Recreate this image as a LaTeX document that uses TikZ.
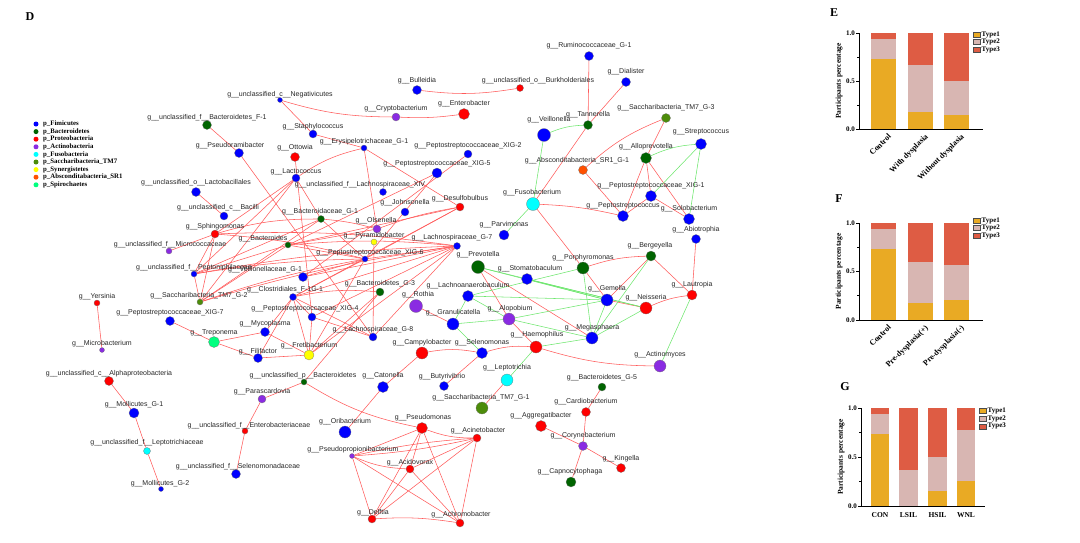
\documentclass[tikz,border=0pt]{standalone}
\usepackage{fontspec}
\setmainfont{Liberation Serif}
\newfontfamily\arialf{Liberation Sans}
\pgfdeclarelayer{bg}
\pgfsetlayers{bg,main}
\definecolor{pfir}{RGB}{0,0,255}
\definecolor{pbac}{RGB}{0,100,0}
\definecolor{ppro}{RGB}{255,0,0}
\definecolor{pact}{RGB}{138,43,226}
\definecolor{pfus}{RGB}{0,255,255}
\definecolor{ptm}{RGB}{77,140,10}
\definecolor{psyn}{RGB}{255,255,0}
\definecolor{pabs}{RGB}{255,80,0}
\definecolor{pspi}{RGB}{0,255,127}
\definecolor{ered}{RGB}{255,90,90}
\definecolor{egreen}{RGB}{110,230,110}
\definecolor{tone}{RGB}{233,170,36}
\definecolor{ttwo}{RGB}{216,182,178}
\definecolor{tthree}{RGB}{222,92,68}
\newcommand\sbar[6]{%
  \fill[tone] (#1,#3) rectangle (#2,{#3-#5*#4});
  \fill[ttwo] (#1,{#3-#5*#4}) rectangle (#2,{#3-#6*#4});
  \fill[tthree] (#1,{#3-#6*#4}) rectangle (#2,{#3-#4});
}
\newcommand\chartaxes[4]{% x, ytop, ybottom, xright
  \draw[line width=1pt] (#1,#2) -- (#1,#3) -- (#4,#3);
  \foreach \v in {0,0.5,1} \draw[line width=0.8pt] (#1,{#3-\v*(#3-#2)}) -- ++(-3,0);
  \foreach \v in {0.25,0.75} \draw[line width=0.6pt] (#1,{#3-\v*(#3-#2)}) -- ++(-2,0);
  \node[tick,anchor=east] at ({#1-4},#3) {0.0};
  \node[tick,anchor=east] at ({#1-4},{(#3+#2)/2}) {0.5};
  \node[tick,anchor=east] at ({#1-4},#2) {1.0};
  \node[ylab] at ({#1-20},{(#3+#2)/2}) {Participants percentage};
}
\newcommand\chartlegend[3]{% xbox, ytop, spacing
  \node[lbox,fill=tone] at (#1,#2) {};
  \node[lbox,fill=ttwo] at (#1,{#2+#3}) {};
  \node[lbox,fill=tthree] at (#1,{#2+2*#3}) {};
  \node[legt] at ({#1+5},#2) {Type1};
  \node[legt] at ({#1+5},{#2+#3}) {Type2};
  \node[legt] at ({#1+5},{#2+2*#3}) {Type3};
}
\tikzset{
  nd/.style={circle,draw=black!55,line width=0.25pt,inner sep=0pt,minimum size=#1pt},
  fir/.style={nd=#1,fill=pfir},
  bct/.style={nd=#1,fill=pbac},
  pro/.style={nd=#1,fill=ppro},
  act/.style={nd=#1,fill=pact},
  fus/.style={nd=#1,fill=pfus},
  tms/.style={nd=#1,fill=ptm},
  syn/.style={nd=#1,fill=psyn},
  abs/.style={nd=#1,fill=pabs},
  spi/.style={nd=#1,fill=pspi},
  lab/.style={font=\arialf\fontsize{7}{8}\selectfont,text=black!85,inner sep=0pt},
  re/.style={draw=ered,line width=0.55pt},
  ge/.style={draw=egreen,line width=0.55pt},
  ldot/.style={circle,inner sep=0pt,minimum size=5pt},
  legn/.style={font=\bfseries\fontsize{6.8}{7}\selectfont,anchor=west,inner sep=0pt},
  tick/.style={font=\bfseries\fontsize{7}{8}\selectfont,inner sep=0pt},
  ylab/.style={font=\bfseries\fontsize{7.5}{8}\selectfont,rotate=90,inner sep=0pt},
  xlab/.style={font=\bfseries\fontsize{8}{8}\selectfont,inner sep=0pt,rotate=45,anchor=north east},
  xlabh/.style={font=\bfseries\fontsize{7.5}{8}\selectfont,inner sep=0pt},
  lbox/.style={draw=black!70,line width=0.4pt,minimum width=7pt,minimum height=5pt,inner sep=0pt},
  legt/.style={font=\bfseries\fontsize{7}{8}\selectfont,anchor=west,inner sep=0pt},
  panel/.style={font=\bfseries\fontsize{12}{12}\selectfont,inner sep=0pt},
}
\begin{document}
\begin{tikzpicture}[x=1pt,y=-1pt]
\useasboundingbox (0,0) rectangle (1080,542);
\node[panel] (pD) at (30,17) {D};
% legend
\node[ldot,fill=pfir] (l1) at (36,124) {}; \node[legn] (l1t) at (43,124) {p\_Fimicutes};
\node[ldot,fill=pbac] (l2) at (36,131.6) {}; \node[legn] (l2t) at (43,131.6) {p\_Bacteroidetes};
\node[ldot,fill=ppro] (l3) at (36,139.2) {}; \node[legn] (l3t) at (43,139.2) {p\_Proteobacteria};
\node[ldot,fill=pact] (l4) at (36,146.8) {}; \node[legn] (l4t) at (43,146.8) {p\_Actinobacteria};
\node[ldot,fill=pfus] (l5) at (36,154.4) {}; \node[legn] (l5t) at (43,154.4) {p\_Fusobacteria};
\node[ldot,fill=ptm] (l6) at (36,162) {}; \node[legn] (l6t) at (43,162) {p\_Saccharibacteria\_TM7};
\node[ldot,fill=psyn] (l7) at (36,169.6) {}; \node[legn] (l7t) at (43,169.6) {p\_Synergistetes};
\node[ldot,fill=pabs] (l8) at (36,177.2) {}; \node[legn] (l8t) at (43,177.2) {p\_Absconditabacteria\_SR1};
\node[ldot,fill=pspi] (l9) at (36,184.8) {}; \node[legn] (l9t) at (43,184.8) {p\_Spirochaetes};

% nodes
\node[bct=9] (bf1) at (207,125) {}; \node[lab] (bf1t) at (207,118) {g\_\_unclassified\_f\_\_Bacteroidetes\_F-1};
\node[fir=9] (pseu) at (239,153) {}; \node[lab] (pseut) at (230,146) {g\_\_Pseudoramibacter};
\node[fir=5] (neg) at (280,100) {}; \node[lab] (negt) at (280,95) {g\_\_unclassified\_c\_\_Negativicutes};
\node[fir=8] (sta) at (313,134) {}; \node[lab] (stat) at (313,127) {g\_\_Staphylococcus};
\node[fir=6] (ery) at (364,148) {}; \node[lab] (eryt) at (364,142) {g\_\_Erysipelotrichaceae\_G-1};
\node[pro=9] (ott) at (295,157) {}; \node[lab] (ottt) at (295,148) {g\_\_Ottowia};
\node[act=8] (cry) at (396,117) {}; \node[lab] (cryt) at (396,109) {g\_\_Cryptobacterium};
\node[pro=11] (ent) at (464,114) {}; \node[lab] (entt) at (464,104) {g\_\_Enterobacter};
\node[fir=9] (bul) at (417,90) {}; \node[lab] (bult) at (417,81) {g\_\_Bulleidia};
\node[pro=7] (bur) at (520,88) {}; \node[lab] (burt) at (538,81) {g\_\_unclassified\_o\_\_Burkholderiales};
\node[fir=8] (x2) at (468,154) {}; \node[lab] (x2t) at (468,146) {g\_\_Peptostreptococcaceae\_XIG-2};
\node[fir=10] (x5) at (437,173) {}; \node[lab] (x5t) at (437,164) {g\_\_Peptostreptococcaceae\_XIG-5};
\node[fir=8] (lac) at (296,178) {}; \node[lab] (lact) at (296,172) {g\_\_Lactococcus};
\node[fir=9] (lbl) at (196,192) {}; \node[lab] (lblt) at (196,183) {g\_\_unclassified\_o\_\_Lactobacillales};
\node[fir=8] (bac) at (224,216) {}; \node[lab] (bact) at (218,208) {g\_\_unclassified\_c\_\_Bacilli};
\node[pro=8] (sph) at (215,234) {}; \node[lab] (spht) at (215,227) {g\_\_Sphingomonas};
\node[act=6] (mic) at (169,251) {}; \node[lab] (mict) at (170,245) {g\_\_unclassified\_f\_\_Micrococcaceae};
\node[fir=6] (pep) at (194,274) {}; \node[lab] (pept) at (194,268) {g\_\_unclassified\_f\_\_Peptoniphilaceae};
\node[tms=6] (tm2) at (200,302) {}; \node[lab] (tm2t) at (199,296) {g\_\_Saccharibacteria\_TM7\_G-2};
\node[pro=6] (yer) at (97,303) {}; \node[lab] (yert) at (97,297) {g\_\_Yersinia};
\node[act=5] (mib) at (102,350) {}; \node[lab] (mibt) at (102,344) {g\_\_Microbacterium};
\node[fir=9] (x7) at (170,321) {}; \node[lab] (x7t) at (170,313) {g\_\_Peptostreptococcaceae\_XIG-7};
\node[spi=11] (tre) at (214,342) {}; \node[lab] (tret) at (214,333) {g\_\_Treponema};
\node[fir=9] (myc) at (265,332) {}; \node[lab] (myct) at (265,324) {g\_\_Mycoplasma};
\node[fir=9] (fil) at (258,358) {}; \node[lab] (filt) at (258,352) {g\_\_Filifactor};
\node[fir=8] (joh) at (405,212) {}; \node[lab] (joht) at (405,203) {g\_\_Johnsonella};
\node[pro=8] (des) at (460,207) {}; \node[lab] (dest) at (460,199) {g\_\_Desulfobulbus};
\node[fir=7] (lxiv) at (383,192) {}; \node[lab] (lxivt) at (360,185) {g\_\_unclassified\_f\_\_Lachnospiraceae\_XIV};
\node[fus=13] (fsb) at (533,204) {}; \node[lab] (fsbt) at (532,193) {g\_\_Fusobacterium};
\node[bct=7] (bg1) at (321,219) {}; \node[lab] (bg1t) at (320,212) {g\_\_Bacteroidaceae\_G-1};
\node[act=8] (ols) at (377,229) {}; \node[lab] (olst) at (376,221) {g\_\_Olsenella};
\node[syn=6] (pyr) at (374,242) {}; \node[lab] (pyrt) at (374,236) {g\_\_Pyramidobacter};
\node[bct=6] (bds) at (288,245) {}; \node[lab] (bdst) at (263,239) {g\_\_Bacteroides};
\node[fir=10] (par) at (504,235) {}; \node[lab] (part) at (504,225) {g\_\_Parvimonas};
\node[fir=7] (lg7) at (457,246) {}; \node[lab] (lg7t) at (452,238) {g\_\_Lachnospiraceae\_G-7};
\node[bct=13] (pre) at (478,267) {}; \node[lab] (pret) at (478,255) {g\_\_Prevotella};
\node[fir=6] (x6) at (365,259) {}; \node[lab] (x6t) at (370,253) {g\_\_Peptostreptococcaceae\_XIG-6};
\node[fir=9] (vg1) at (303,277) {}; \node[lab] (vg1t) at (265,270) {g\_\_Veillonellaceae\_G-1};
\node[fir=7] (clo) at (293,297) {}; \node[lab] (clot) at (285,290) {g\_\_Clostridiales\_F-1G-1};
\node[bct=8] (bg3) at (380,292) {}; \node[lab] (bg3t) at (380,284) {g\_\_Bacteroidetes\_G-3};
\node[fir=11] (lan) at (468,296) {}; \node[lab] (lant) at (468,286) {g\_\_Lachnoanaerobaculum};
\node[act=13] (rot) at (416,306) {}; \node[lab] (rott) at (418,295) {g\_\_Rothia};
\node[fir=8] (x4) at (312,317) {}; \node[lab] (x4t) at (305,309) {g\_\_Peptostreptococcaceae\_XIG-4};
\node[fir=12] (gra) at (453,324) {}; \node[lab] (grat) at (453,313) {g\_\_Granulicatella};
\node[act=12] (alo) at (509,319) {}; \node[lab] (alot) at (510,309) {g\_\_Alopobium};
\node[fir=8] (lg8) at (373,337) {}; \node[lab] (lg8t) at (373,330) {g\_\_Lachnospiraceae\_G-8};
\node[syn=10] (fre) at (309,355) {}; \node[lab] (fret) at (309,346) {g\_\_Fretibacterium};
\node[pro=12] (cam) at (422,353) {}; \node[lab] (camt) at (422,343) {g\_\_Campylobacter};
\node[fir=11] (sel) at (482,353) {}; \node[lab] (selt) at (482,343) {g\_\_Selenomonas};
\node[pro=12] (hae) at (536,347) {}; \node[lab] (haet) at (537,335) {g\_\_Haemophilus};
\node[fir=11] (sto) at (527,279) {}; \node[lab] (stot) at (530,269) {g\_\_Stomatobaculum};
\node[fir=11] (x1) at (651,196) {}; \node[lab] (x1t) at (651,186) {g\_\_Peptostreptococcaceae\_XIG-1};
\node[fir=11] (pst) at (623,216) {}; \node[lab] (pstt) at (623,206) {g\_\_Peptostreptococcus};
\node[fir=11] (sol) at (689,219) {}; \node[lab] (solt) at (689,209) {g\_\_Solobacterium};
\node[fir=9] (abi) at (696,239) {}; \node[lab] (abit) at (696,230) {g\_\_Abiotrophia};
\node[bct=10] (ber) at (651,256) {}; \node[lab] (bert) at (650,246) {g\_\_Bergeyella};
\node[bct=12] (por) at (583,268) {}; \node[lab] (port) at (583,258) {g\_\_Porphyromonas};
\node[pro=10] (lau) at (692,295) {}; \node[lab] (laut) at (692,285) {g\_\_Lautropia};
\node[fir=12] (gem) at (607,300) {}; \node[lab] (gemt) at (607,289) {g\_\_Gemella};
\node[pro=12] (nei) at (646,308) {}; \node[lab] (neit) at (646,298) {g\_\_Neisseria};
\node[fir=12] (meg) at (592,338) {}; \node[lab] (megt) at (592,328) {g\_\_Megasphaera};
\node[act=12] (acm) at (660,366) {}; \node[lab] (acmt) at (660,355) {g\_\_Actinomyces};
\node[pro=9] (alp) at (109,381) {}; \node[lab] (alpt) at (109,374) {g\_\_unclassified\_c\_\_Alphaproteobacteria};
\node[fir=10] (mo1) at (134,413) {}; \node[lab] (mo1t) at (134,405) {g\_\_Mollicutes\_G-1};
\node[fus=7] (ltc) at (147,451) {}; \node[lab] (ltct) at (147,443) {g\_\_unclassified\_f\_\_Leptotrichiaceae};
\node[fir=5] (mo2) at (161,489) {}; \node[lab] (mo2t) at (160,484) {g\_\_Mollicutes\_G-2};
\node[act=8] (pas) at (262,399) {}; \node[lab] (past) at (262,392) {g\_\_Parascardovia};
\node[pro=6] (enb) at (245,431) {}; \node[lab] (enbt) at (249,426) {g\_\_unclassified\_f\_\_Enterobacteriaceae};
\node[fir=9] (sld) at (236,474) {}; \node[lab] (sldt) at (238,467) {g\_\_unclassified\_f\_\_Selenomonadaceae};
\node[bct=6] (ubd) at (304,382) {}; \node[lab] (ubdt) at (303,376) {g\_\_unclassified\_p\_\_Bacteroidetes};
\node[fir=11] (cat) at (383,387) {}; \node[lab] (catt) at (383,376) {g\_\_Catonella};
\node[fir=9] (but) at (444,386) {}; \node[lab] (butt) at (442,377) {g\_\_Butyrivibrio};
\node[fus=12] (lep) at (507,380) {}; \node[lab] (lept) at (507,368) {g\_\_Leptotrichia};
\node[tms=12] (tm1) at (482,408) {}; \node[lab] (tm1t) at (481,398) {g\_\_Saccharibacteria\_TM7\_G-1};
\node[fir=12] (ori) at (345,432) {}; \node[lab] (orit) at (345,422) {g\_\_Oribacterium};
\node[pro=11] (psm) at (422,428) {}; \node[lab] (psmt) at (423,418) {g\_\_Pseudomonas};
\node[pro=8] (aci) at (477,438) {}; \node[lab] (acit) at (478,431) {g\_\_Acinetobacter};
\node[act=5] (ppb) at (352,456) {}; \node[lab] (ppbt) at (353,450) {g\_\_Pseudopropionibacterium};
\node[pro=8] (acv) at (410,469) {}; \node[lab] (acvt) at (410,463) {g\_\_Acidovorax};
\node[pro=8] (del) at (372,519) {}; \node[lab] (delt) at (373,513) {g\_\_Delftia};
\node[pro=8] (ach) at (460,523) {}; \node[lab] (acht) at (461,515) {g\_\_Achromobacter};
\node[pro=11] (agg) at (541,426) {}; \node[lab] (aggt) at (541,416) {g\_\_Aggregatibacter};
\node[bct=8] (bg5) at (602,387) {}; \node[lab] (bg5t) at (602,378) {g\_\_Bacteroidetes\_G-5};
\node[pro=9] (car) at (586,412) {}; \node[lab] (cart) at (586,402) {g\_\_Cardiobacterium};
\node[act=9] (cor) at (583,446) {}; \node[lab] (cort) at (583,436) {g\_\_Corynebacterium};
\node[pro=9] (kin) at (621,468) {}; \node[lab] (kint) at (621,459) {g\_\_Kingella};
\node[bct=10] (cap) at (571,482) {}; \node[lab] (capt) at (570,472) {g\_\_Capnocytophaga};
\node[bct=9] (tan) at (588,125) {}; \node[lab] (tant) at (588,115) {g\_\_Tannerella};
\node[fir=9] (dia) at (626,82) {}; \node[lab] (diat) at (626,72) {g\_\_Dialister};
\node[fir=9] (rum) at (589,56) {}; \node[lab] (rumt) at (589,46) {g\_\_Ruminococcaceae\_G-1};
\node[fir=13] (vei) at (544,135) {}; \node[lab] (veit) at (549,120) {g\_\_Veillonella};
\node[tms=9] (tm3) at (666,118) {}; \node[lab] (tm3t) at (666,108) {g\_\_Saccharibacteria\_TM7\_G-3};
\node[fir=11] (str) at (701,144) {}; \node[lab] (strt) at (701,132) {g\_\_Streptococcus};
\node[bct=11] (alv) at (646,158) {}; \node[lab] (alvt) at (646,147) {g\_\_Alloprevotella};
\node[abs=9] (asr) at (583,170) {}; \node[lab] (asrt) at (577,161) {g\_\_Absconditabacteria\_SR1\_G-1};

\begin{pgfonlayer}{bg}
% red edges
\draw[re] (neg) to[bend right=8] (cry);
\draw[re] (cry) to[bend right=5] (ent);
\draw[re] (bul) to[bend right=8] (bur);
\draw[re] (neg) -- (sta);
\draw[re] (sta) -- (ery);
\draw[re] (ery) to[bend right=10] (lac);
\draw[re] (ery) -- (des);
\draw[re] (ery) -- (ols);
\draw[re] (x2) -- (vg1);
\draw[re] (x5) -- (bds);
\draw[re] (x5) -- (x6);
\draw[re] (bf1) -- (pseu);
\draw[re] (pseu) -- (lg8);
\draw[re] (ott) -- (x4);
\draw[re] (lac) -- (bg1);
\draw[re] (lac) -- (sph);
\draw[re] (lac) -- (pep);
\draw[re] (lac) -- (tm2);
\draw[re] (lbl) -- (bac);
\draw[re] (sph) -- (mic);
\draw[re] (sph) -- (pep);
\draw[re] (sph) -- (tm2);
\draw[re] (sph) to[bend left=5] (x6);
\draw[re] (sph) to[bend left=8] (bg1);
\draw[re] (sph) to[bend left=5] (lg7);
\draw[re] (pep) -- (tm2);
\draw[re] (pep) to[bend left=4] (x6);
\draw[re] (pep) to[bend left=4] (lg7);
\draw[re] (pep) -- (bds);
\draw[re] (pep) -- (bg1);
\draw[re] (tm2) to[bend left=4] (x6);
\draw[re] (tm2) to[bend left=4] (lg7);
\draw[re] (tm2) -- (bg1);
\draw[re] (tm2) -- (bds);
\draw[re] (bds) -- (x6);
\draw[re] (bds) to[bend left=5] (lg7);
\draw[re] (bds) -- (ols);
\draw[re] (bds) -- (des);
\draw[re] (bg1) to[bend left=5] (ols);
\draw[re] (bg1) -- (x6);
\draw[re] (ols) to[bend left=5] (des);
\draw[re] (pyr) -- (lg8);
\draw[re] (des) -- (x6);
\draw[re] (des) -- (clo);
\draw[re] (lg7) -- (x6);
\draw[re] (lg7) -- (clo);
\draw[re] (lg7) -- (vg1);
\draw[re] (lg7) -- (x4);
\draw[re] (lg7) -- (fre);
\draw[re] (lg7) -- (lg8);
\draw[re] (x6) -- (clo);
\draw[re] (x6) -- (vg1);
\draw[re] (x6) -- (fre);
\draw[re] (clo) to[bend left=8] (bg3);
\draw[re] (clo) -- (x4);
\draw[re] (clo) -- (fre);
\draw[re] (clo) -- (fil);
\draw[re] (clo) -- (myc);
\draw[re] (clo) -- (lg8);
\draw[re] (x4) -- (lg8);
\draw[re] (x4) -- (fre);
\draw[re] (fre) -- (bg3);
\draw[re] (fre) -- (fil);
\draw[re] (fre) -- (myc);
\draw[re] (myc) -- (tre);
\draw[re] (fil) -- (tre);
\draw[re] (x7) -- (tre);
\draw[re] (yer) -- (mib);
\draw[re] (alp) -- (mo1);
\draw[re] (mo1) -- (ltc);
\draw[re] (ltc) -- (mo2);
\draw[re] (pas) -- (enb);
\draw[re] (enb) -- (sld);
\draw[re] (pas) -- (ubd);
\draw[re] (ubd) to[bend right=10] (psm);
\draw[re] (ubd) -- (bg3);
\draw[re] (cam) -- (cat);
\draw[re] (cat) -- (ori);
\draw[re] (cam) to[bend left=10] (sel);
\draw[re] (sel) -- (but);
\draw[re] (sel) to[bend left=10] (hae);
\draw[re] (psm) to[bend right=10] (aci);
\draw[re] (psm) -- (ppb);
\draw[re] (psm) -- (acv);
\draw[re] (psm) -- (del);
\draw[re] (psm) -- (ach);
\draw[re] (aci) to[bend right=4] (ppb);
\draw[re] (aci) to[bend left=4] (ppb);
\draw[re] (aci) -- (acv);
\draw[re] (aci) -- (del);
\draw[re] (aci) -- (ach);
\draw[re] (ppb) to[bend right=10] (acv);
\draw[re] (ppb) -- (del);
\draw[re] (ppb) -- (ach);
\draw[re] (acv) -- (del);
\draw[re] (acv) -- (ach);
\draw[re] (del) to[bend left=6] (ach);
\draw[re] (lep) -- (tm1);
\draw[re] (agg) -- (cor);
\draw[re] (cor) -- (car);
\draw[re] (car) -- (bg5);
\draw[re] (cor) -- (kin);
\draw[re] (cor) -- (cap);
\draw[re] (hae) to[bend right=8] (acm);
\draw[re] (rum) -- (tan);
\draw[re] (dia) -- (tan);
\draw[re] (tan) -- (fsb);
\draw[re] (tm3) to[bend right=10] (asr);
\draw[re] (tm3) -- (alv);
\draw[re] (alv) -- (pst);
\draw[re] (alv) -- (x1);
\draw[re] (alv) -- (sol);
\draw[re] (asr) -- (pst);
\draw[re] (fsb) to[bend left=5] (pst);
\draw[re] (fsb) -- (por);
\draw[re] (x1) -- (pst);
\draw[re] (x1) -- (sol);
\draw[re] (abi) -- (lau);
\draw[re] (ber) to[bend right=8] (por);
\draw[re] (ber) -- (lau);
\draw[re] (ber) -- (gem);
\draw[re] (por) -- (gem);
\draw[re] (gem) -- (nei);
\draw[re] (nei) to[bend left=8] (lau);
\draw[re] (rot) -- (gra);
\draw[re] (alo) -- (hae);
\draw[re] (pre) -- (meg);
\draw[re] (pre) -- (alo);
% green edges
\draw[ge] (vei) to[bend left=10] (tan);
\draw[ge] (vei) -- (fsb);
\draw[ge] (alv) to[bend left=10] (str);
\draw[ge] (str) -- (x1);
\draw[ge] (str) -- (sol);
\draw[ge] (fsb) -- (par);
\draw[ge] (ber) -- (meg);
\draw[ge] (por) -- (meg);
\draw[ge] (meg) -- (nei);
\draw[ge] (meg) -- (gem);
\draw[ge] (lau) -- (acm);
\draw[ge] (pre) -- (gem);
\draw[ge] (pre) -- (nei);
\draw[ge] (sto) -- (gem);
\draw[ge] (sto) -- (nei);
\draw[ge] (lan) -- (gem);
\draw[ge] (lan) -- (gra);
\draw[ge] (lan) -- (alo);
\draw[ge] (gra) -- (sel);
\draw[ge] (gra) -- (alo);
\draw[ge] (alo) -- (meg);
\draw[ge] (alo) -- (gem);
\draw[ge] (lep) -- (hae);
\draw[ge] (hae) -- (meg);
\draw[ge] (por) -- (lan);
\end{pgfonlayer}

% ===== Panel E =====
\node[panel] (pE) at (834,13) {E};
\sbar{871}{896}{129}{96}{0.73}{0.94}
\sbar{908}{933}{129}{96}{0.18}{0.67}
\sbar{944}{969}{129}{96}{0.15}{0.50}
\chartaxes{859}{33}{129}{983}
\chartlegend{976.5}{34.5}{7.6}
\node[xlab] (eA) at (887.5,133) {Control};
\node[xlab] (eB) at (924.5,133) {With dysplasia};
\node[xlab] (eC) at (960.5,133) {Without dysplasia};
% ===== Panel F =====
\node[panel] (pF) at (839,199) {F};
\sbar{871}{896}{320}{97}{0.73}{0.94}
\sbar{908}{933}{320}{97}{0.18}{0.60}
\sbar{944}{969}{320}{97}{0.21}{0.57}
\chartaxes{859}{223}{320}{983}
\chartlegend{976.5}{220.5}{7.6}
\node[xlab] (fA) at (887.5,324) {Control};
\node[xlab] (fB) at (924.5,324) {Pre-dysplasia(+)};
\node[xlab] (fC) at (960.5,324) {Pre-dysplasia(-)};
% ===== Panel G =====
\node[panel] (pG) at (845,387) {G};
\sbar{871}{889}{506}{98}{0.73}{0.94}
\sbar{899}{918}{506}{98}{0}{0.37}
\sbar{928}{947}{506}{98}{0.15}{0.50}
\sbar{957}{975}{506}{98}{0.26}{0.78}
\chartaxes{861}{408}{506}{985}
\chartlegend{982.5}{411}{7.6}
\node[xlabh] (gA) at (880,515) {CON};
\node[xlabh] (gB) at (908.5,515) {LSIL};
\node[xlabh] (gC) at (937.5,515) {HSIL};
\node[xlabh] (gD) at (966,515) {WNL};
\end{tikzpicture}
\end{document}
